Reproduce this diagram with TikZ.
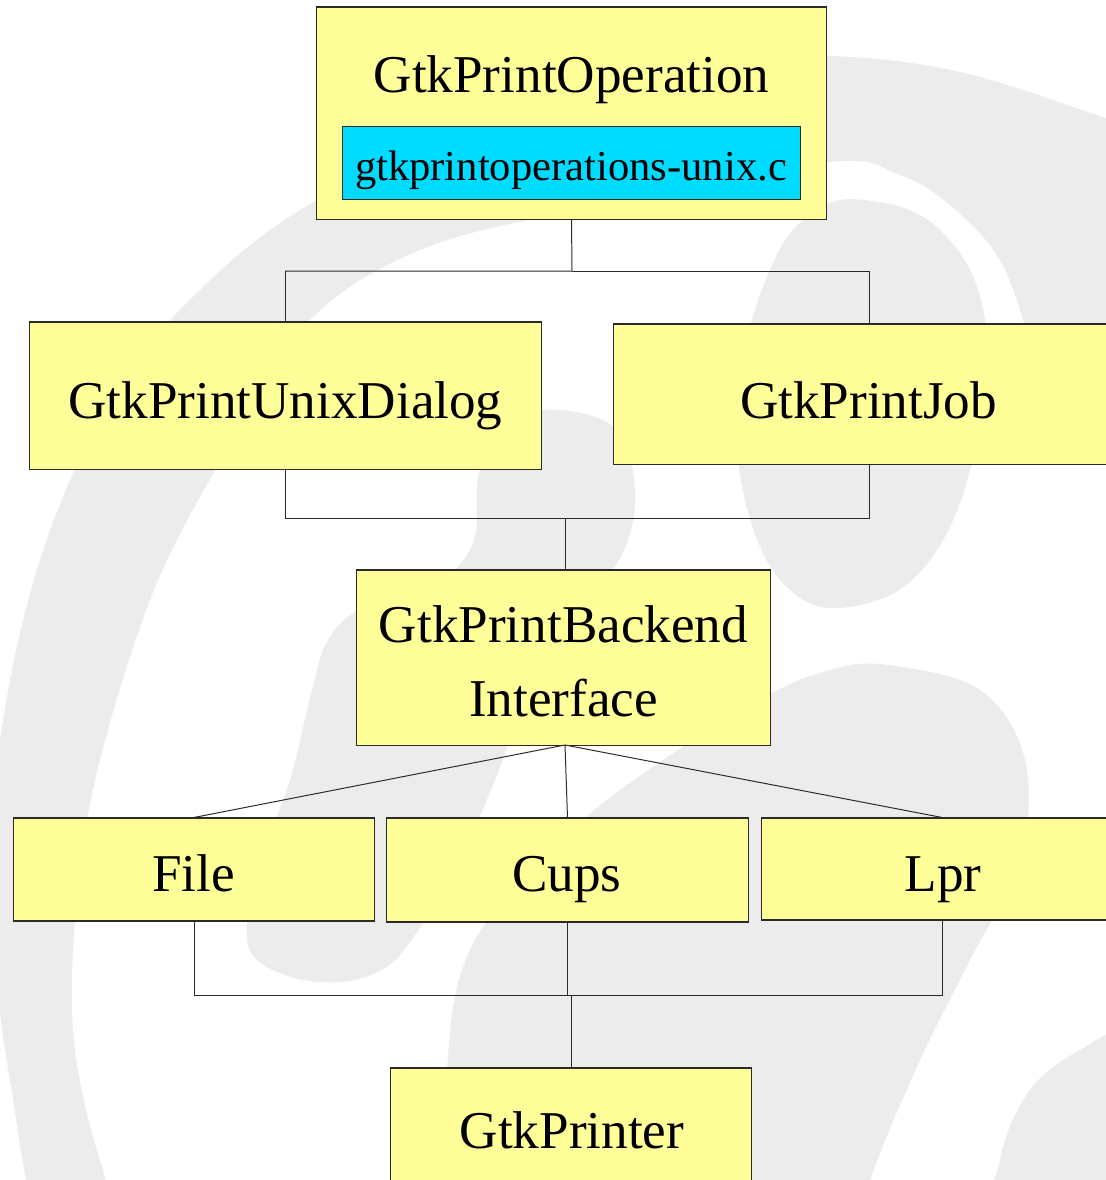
\documentclass[tikz,border=0pt]{standalone}
\usepackage{fontspec}
\setmainfont{Liberation Serif}
\definecolor{boxyellow}{HTML}{FFFF99}
\definecolor{filecyan}{HTML}{00DCFF}
\definecolor{swirl}{HTML}{ECECEC}
\definecolor{edge}{HTML}{2A2A2A}

\begin{document}
\begin{tikzpicture}[x=0.025cm,y=-0.025cm,
  ybox/.style={rectangle, draw=edge, line width=0.75pt, fill=boxyellow, inner sep=0pt},
  cbox/.style={rectangle, draw=edge, line width=0.6pt, fill=filecyan, inner sep=0pt},
  lbl/.style={anchor=base, inner sep=0pt, font=\fontsize{37.8}{45}\selectfont},
  smalllbl/.style={anchor=base, inner sep=0pt, font=\fontsize{30.3}{36}\selectfont},
  link/.style={draw=edge, line width=0.7pt}]

\useasboundingbox (0,0) rectangle (1106,1180);
\clip (0,0) rectangle (1106,1180);
\fill[white] (0,0) rectangle (1106,1180);

% watermark swirl behind the diagram
\begin{scope}[fill=swirl]
  % large outer arc
  \fill plot[smooth cycle, tension=0.6] coordinates {
    (1200,150) (1106,118) (960,72) (828,56) (680,62) (520,105) (317,200)
    (200,290) (110,400) (40,560) (0,740) (-10,900) (10,1080) (50,1250)
    (150,1280) (106,1180) (75,1050) (75,920) (95,780) (150,600) (215,470)
    (300,330) (420,250) (600,205) (828,162) (900,175) (950,205) (1000,260)
    (1030,340) (1060,420) (1200,470)};
  % toe behind the right-hand box
  \fill plot[smooth cycle, tension=0.7] coordinates {
    (863,200) (940,230) (985,320) (975,450) (930,560) (860,605) (790,590)
    (745,500) (740,380) (770,270) (810,215)};
  % curved toe through the middle
  \fill plot[smooth cycle, tension=0.6] coordinates {
    (560,410) (615,428) (634,480) (628,540) (590,605) (530,690) (495,780)
    (455,870) (415,935) (385,968) (340,982) (285,975) (248,945) (258,870)
    (290,780) (312,690) (328,640) (362,608) (440,580) (474,540) (480,470)
    (515,420)};
  % heel
  \fill plot[smooth cycle, tension=0.6] coordinates {
    (888,665) (980,690) (1025,760) (1020,860) (970,960) (920,1060) (870,1180)
    (850,1260) (440,1260) (445,1100) (462,970) (520,880) (620,790) (760,700)
    (830,670)};
  % corner piece
  \fill plot[smooth cycle, tension=0.6] coordinates {
    (1000,1250) (1000,1160) (1030,1090) (1080,1050) (1130,1035) (1200,1100)
    (1200,1250)};
\end{scope}

% boxes
\node[ybox, minimum width=12.725cm, minimum height=5.3cm] (op) at (571.5,113) {};
\node[lbl] (optxt) at (571.5,92.5) {GtkPrintOperation};
\node[cbox, minimum width=11.45cm, minimum height=1.825cm] (unixc) at (571,162.5) {};
\node[smalllbl] (unixctxt) at (571,180) {gtkprintoperations-unix.c};

\node[ybox, minimum width=12.775cm, minimum height=3.675cm] (dialog) at (285.5,395.5) {};
\node[lbl] (dialogtxt) at (285.5,418) {GtkPrintUnixDialog};

\node[ybox, minimum width=12.75cm, minimum height=3.5cm] (job) at (869,394) {};
\node[lbl] (jobtxt) at (868.5,418) {GtkPrintJob};

\node[ybox, minimum width=10.325cm, minimum height=4.375cm] (backend) at (563.5,657.5) {};
\node[lbl] (backendtxta) at (563.5,642) {GtkPrintBackend};
\node[lbl] (backendtxtb) at (563.5,716) {Interface};

\node[ybox, minimum width=9cm, minimum height=2.575cm] (file) at (194,869.5) {};
\node[lbl] (filetxt) at (193.5,891) {File};
\node[ybox, minimum width=9.025cm, minimum height=2.6cm] (cups) at (567.5,870) {};
\node[lbl] (cupstxt) at (567,891) {Cups};
\node[ybox, minimum width=9cm, minimum height=2.55cm] (lpr) at (942,869) {};
\node[lbl] (lprtxt) at (943,891) {Lpr};

\node[ybox, minimum width=9cm, minimum height=3.15cm] (printer) at (571,1131) {};
\node[lbl] (printertxt) at (572,1148) {GtkPrinter};

% connectors
\coordinate (opjoin) at (572,271);
\draw[link] (op.south) -- (opjoin) -| (dialog.north);
\draw[link] (opjoin) -| (job.north);

\coordinate (bejoin) at (565,518);
\draw[link] (dialog.south) |- (bejoin);
\draw[link] (job.south) |- (bejoin);
\draw[link] (bejoin) -- (bejoin |- backend.north);

\coordinate (befan) at (565,745);
\draw[link] (befan) -- (file.north);
\draw[link] (befan) -- (cups.north);
\draw[link] (befan) -- (lpr.north);

\coordinate (prjoin) at (571,995);
\draw[link] (file.south) |- (prjoin);
\draw[link] (lpr.south) |- (prjoin);
\draw[link] (cups.south) -- (cups.south |- prjoin);
\draw[link] (prjoin) -- (printer.north);
\end{tikzpicture}
\end{document}
